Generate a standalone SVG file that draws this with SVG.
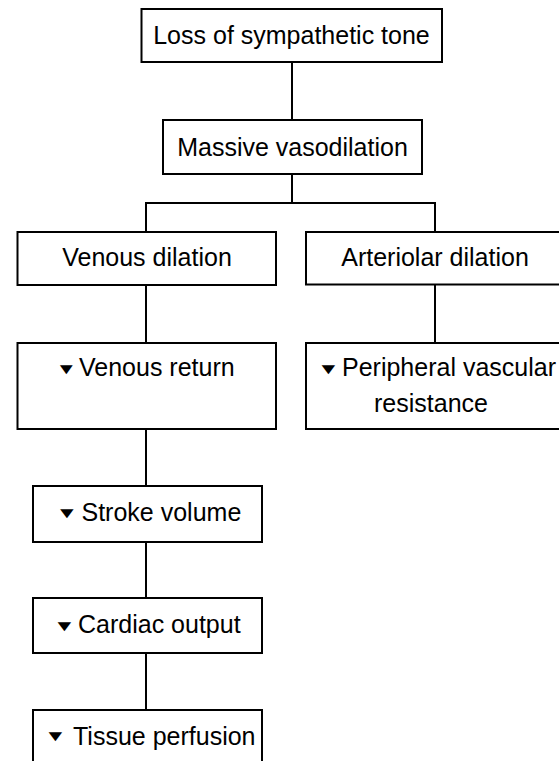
<svg xmlns="http://www.w3.org/2000/svg" width="559" height="761" viewBox="0 0 559 761">
  <style>
    .box { fill: #ffffff; stroke: #000000; stroke-width: 2; }
    .conn line { stroke: #000000; stroke-width: 2; }
    .lbl { font-family: "Liberation Sans", Arial, sans-serif; font-size: 25px; fill: #000000; }
    .mid { text-anchor: middle; }
    .tri { font-family: "Liberation Sans", Arial, sans-serif; font-size: 23px; fill: #000000; }
  </style>
  <rect x="0" y="0" width="559" height="761" fill="#ffffff"/>
  <g id="connectors" class="conn">
    <line x1="292" y1="62" x2="292" y2="120"/>
    <line x1="292" y1="174" x2="292" y2="203"/>
    <line x1="145" y1="203" x2="436" y2="203"/>
    <line x1="146" y1="203" x2="146" y2="232"/>
    <line x1="435" y1="203" x2="435" y2="232"/>
    <line x1="146" y1="285" x2="146" y2="343"/>
    <line x1="435" y1="284" x2="435" y2="343"/>
    <line x1="146" y1="429" x2="146" y2="486"/>
    <line x1="146" y1="542" x2="146" y2="598"/>
    <line x1="146" y1="653" x2="146" y2="710"/>
  </g>
  <g id="loss-of-sympathetic-tone">
    <rect class="box" x="141.5" y="9" width="300.5" height="53"/>
    <text class="lbl mid" x="291.5" y="44">Loss of sympathetic tone</text>
  </g>
  <g id="massive-vasodilation">
    <rect class="box" x="163" y="120" width="259" height="54"/>
    <text class="lbl mid" x="292.5" y="156">Massive vasodilation</text>
  </g>
  <g id="venous-dilation">
    <rect class="box" x="17.5" y="232" width="258.5" height="53"/>
    <text class="lbl mid" x="147" y="266">Venous dilation</text>
  </g>
  <g id="arteriolar-dilation">
    <rect class="box" x="306" y="232" width="258" height="52.5"/>
    <text class="lbl mid" x="435" y="266">Arteriolar dilation</text>
  </g>
  <g id="venous-return">
    <rect class="box" x="17.5" y="343" width="258.5" height="86"/>
    <text class="tri" transform="translate(55.5,373.5) scale(0.95,0.66)">▼</text>
    <text class="lbl" x="79" y="376">Venous return</text>
  </g>
  <g id="peripheral-vascular-resistance">
    <rect class="box" x="306" y="343" width="258" height="86"/>
    <text class="tri" transform="translate(317,373.5) scale(1,0.66)">▼</text>
    <text class="lbl" x="342" y="376">Peripheral vascular</text>
    <text class="lbl mid" x="431" y="412">resistance</text>
  </g>
  <g id="stroke-volume">
    <rect class="box" x="33" y="486" width="229" height="56"/>
    <text class="tri" transform="translate(55.4,517.8) scale(1,0.66)">▼</text>
    <text class="lbl" x="81.5" y="521">Stroke volume</text>
  </g>
  <g id="cardiac-output">
    <rect class="box" x="33" y="598" width="229" height="55"/>
    <text class="tri" transform="translate(53,630.5) scale(1,0.66)">▼</text>
    <text class="lbl" x="78" y="633">Cardiac output</text>
  </g>
  <g id="tissue-perfusion">
    <rect class="box" x="33" y="710" width="229" height="56"/>
    <text class="tri" transform="translate(44,740.5) scale(1,0.66)">▼</text>
    <text class="lbl" x="73" y="745">Tissue perfusion</text>
  </g>
</svg>
